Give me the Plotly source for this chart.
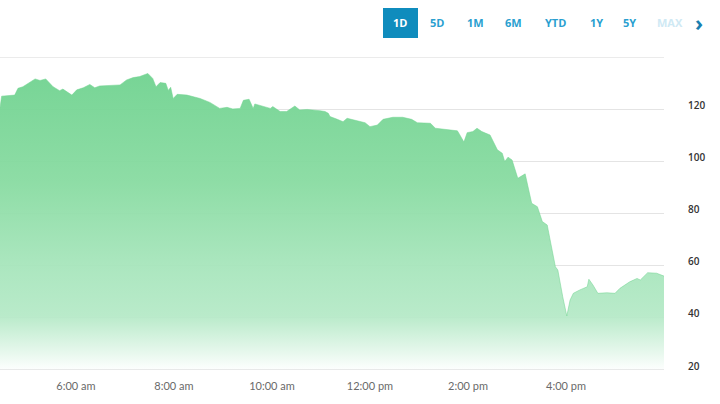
import plotly.graph_objects as go

# ---- data ----
times = ["04:27","04:29","04:45","04:49","04:55","05:10","05:16","05:23","05:32","05:40",
         "05:44","05:55","06:01","06:09","06:17","06:23","06:29","06:45","06:54","07:02",
         "07:10","07:18","07:28","07:34","07:38","07:43","07:50","07:53","07:56","07:59",
         "08:04","08:16","08:32","08:44","08:56","09:05","09:12","09:21","09:25","09:32",
         "09:37","09:39","09:49","09:58","10:01","10:10","10:18","10:28","10:34","10:43",
         "10:59","11:05","11:09","11:11","11:20","11:27","11:32","11:44","11:54","12:00",
         "12:09","12:16","12:28","12:40","12:51","12:58","13:14","13:20","13:26","13:34",
         "13:47","13:49","13:53","13:55","13:59","14:06","14:11","14:17","14:27","14:36",
         "14:42","14:45","14:49","14:54","15:01","15:10","15:18","15:25","15:31","15:37",
         "15:47","15:50","15:56","16:01","16:05","16:09","16:17","16:26","16:28","16:33",
         "16:39","16:50","17:00","17:06","17:18","17:27","17:31","17:40","17:51","18:00"]
prices = [120.5,125.0,125.4,128.0,128.6,131.6,131.0,131.6,128.6,127.1,
          127.7,125.4,127.4,128.2,129.5,128.2,128.9,129.3,129.3,131.2,
          132.1,132.5,133.7,131.8,128.6,130.2,129.9,127.2,128.4,124.1,
          125.7,125.4,124.1,122.6,120.3,120.7,120.1,120.3,123.4,123.8,
          120.3,122.0,121.2,120.3,121.0,119.1,119.1,121.2,119.7,119.9,
          119.4,119.1,118.4,117.2,116.1,115.2,116.5,115.6,114.8,113.3,
          113.9,116.1,116.9,116.9,116.1,114.8,114.6,112.7,112.5,112.0,
          111.7,110.7,108.3,107.4,111.0,111.4,112.7,111.4,110.1,104.4,
          103.1,99.9,101.6,100.5,93.5,95.2,83.9,82.6,76.9,75.6,
          59.6,58.3,48.1,40.7,46.8,49.4,50.7,51.9,54.8,52.6,
          49.4,49.6,49.4,51.3,53.8,55.1,54.5,57.3,57.1,56.0]

x_tick_hours = ["06:00","08:00","10:00","12:00","14:00","16:00"]
x_tick_labels = ["6:00 am","8:00 am","10:00 am","12:00 pm","2:00 pm","4:00 pm"]
y_tick_values = [20, 40, 60, 80, 100, 120, 140]
y_tick_labels = ["20", "40", "60", "80", "100", "120", ""]
range_buttons = ["1D", "5D", "1M", "6M", "YTD", "1Y", "5Y", "MAX"]

DAY = "2024-01-02 "
xs = [DAY + t for t in times]

fig = go.Figure()
fig.add_trace(go.Scatter(
    x=xs, y=prices, mode="lines",
    line=dict(color="rgba(110,210,142,1)", width=0.5),
    fill="tozeroy",
    fillgradient=dict(
        type="vertical", start=20, stop=140,
        colorscale=[[0.0, "rgba(252,254,253,0.95)"],
                    [0.17, "rgba(180,233,198,0.93)"],
                    [0.33, "rgba(166,229,187,0.94)"],
                    [0.6, "rgba(136,219,161,0.95)"],
                    [1.0, "rgba(108,209,141,0.95)"]]),
    hoverinfo="skip", showlegend=False,
))

fig.update_layout(
    width=720, height=404,
    margin=dict(l=0, r=56, t=57, b=34, autoexpand=False),
    paper_bgcolor="white", plot_bgcolor="white",
    showlegend=False,
    xaxis=dict(
        type="date", automargin=False,
        range=[DAY + "04:27", DAY + "18:00"],
        tickvals=[DAY + h for h in x_tick_hours],
        ticktext=x_tick_labels,
        showgrid=False, zeroline=False, showline=False,
        ticks="outside", ticklen=6, tickcolor="rgba(0,0,0,0)",
        tickfont=dict(family="Lato", size=11, color="#6a6a6a"),
    ),
    yaxis=dict(
        side="right", automargin=False,
        range=[20, 140],
        tickvals=y_tick_values, ticktext=y_tick_labels,
        showgrid=True, gridcolor="#e4e4e4", gridwidth=1,
        zeroline=False, showline=False,
        ticks="outside", ticklen=21, tickcolor="rgba(0,0,0,0)",
        ticklabelshift=-4,
        tickfont=dict(family="Open Sans", size=10, color="#333333", weight=600),
    ),
)

# grid lines at the upper and lower edges of the range
fig.add_shape(type="line", xref="paper", yref="y", x0=0, x1=1,
              y0=y_tick_values[-1], y1=y_tick_values[-1],
              line=dict(color="#e4e4e4", width=1.5), layer="below")
fig.add_shape(type="line", xref="paper", yref="y", x0=0, x1=1,
              y0=y_tick_values[0], y1=y_tick_values[0],
              line=dict(color="#e2e2e2", width=1.5), layer="above")

# range selector buttons (decorative)
W, H, TOP = 664.0, 313.0, 57.0
def px(x):
    return x / W
def py(y):
    return (TOP + H - y) / H

fig.add_shape(type="rect", xref="paper", yref="paper",
              x0=px(383), x1=px(418), y0=py(38), y1=py(8),
              fillcolor="#0f8cbd", line=dict(width=0), layer="above")
btn_x = [400, 437, 475, 513, 555, 596, 629, 670]
for lbl, bx in zip(range_buttons, btn_x):
    if lbl == "1D":
        col = "white"
    elif lbl == "MAX":
        col = "#cfe9f4"
    else:
        col = "#2a9fd0"
    fig.add_annotation(text=lbl, xref="paper", yref="paper", x=px(bx), y=py(23),
                       showarrow=False, xanchor="center", yanchor="middle",
                       font=dict(family="Open Sans", size=11, color=col, weight="bold"))
fig.add_annotation(text="›", xref="paper", yref="paper", x=px(699), y=py(22),
                   showarrow=False, xanchor="center", yanchor="middle",
                   font=dict(family="Open Sans", size=22, color="#1a7fb0", weight="bold"))

fig.write_html(
    "out.html",
    config={"displayModeBar": False},
    post_script="document.body.style.margin='0';document.body.style.padding='0';"
                "document.documentElement.style.margin='0';",
)
